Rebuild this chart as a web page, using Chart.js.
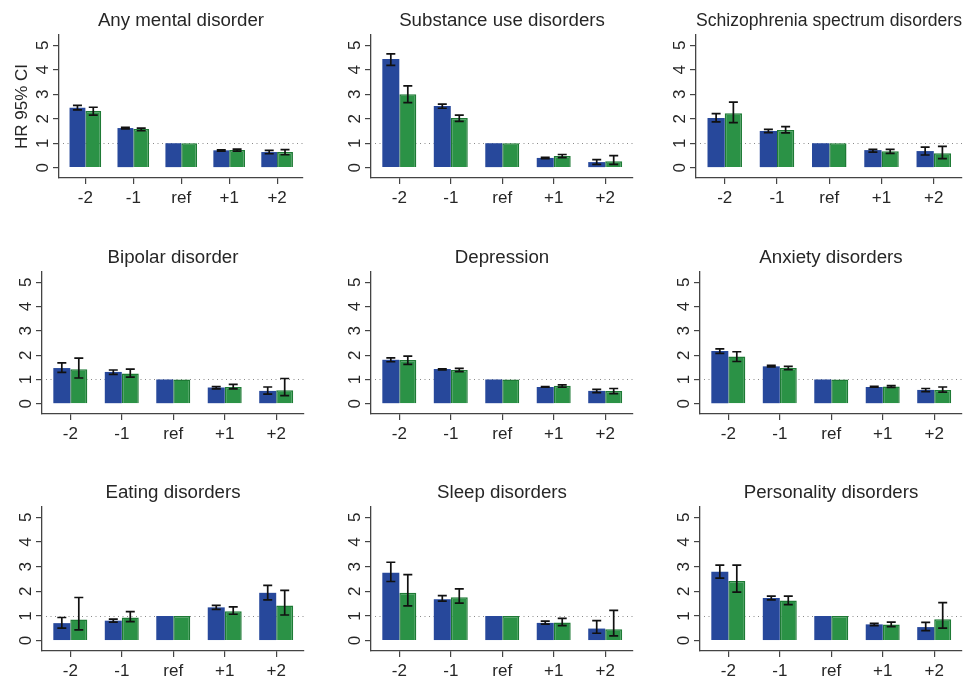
<!DOCTYPE html>
<html>
<head>
<meta charset="utf-8">
<script src="https://cdn.jsdelivr.net/npm/chart.js@4.4.0/dist/chart.umd.min.js"></script>
<style>
html, body { margin: 0; padding: 0; background: #fff; }
#wrap { position: relative; width: 973px; height: 676px; overflow: hidden; }
#wrap canvas { position: absolute; }
</style>
</head>
<body>
<div id="wrap"></div>
<script>
// categories and panels
const categories = ['-2', '-1', 'ref', '+1', '+2'];
const titles = ['Any mental disorder', 'Substance use disorders', 'Schizophrenia spectrum disorders',
                'Bipolar disorder', 'Depression', 'Anxiety disorders',
                'Eating disorders', 'Sleep disorders', 'Personality disorders'];
const yTicks = [0, 1, 2, 3, 4, 5];

// blue series: HR and 95% CI
const blueHR = [
  [2.45, 1.62, 1, 0.71, 0.64],
  [4.44, 2.52, 1, 0.40, 0.23],
  [2.03, 1.50, 1, 0.72, 0.68],
  [1.47, 1.31, 1, 0.67, 0.53],
  [1.81, 1.43, 1, 0.69, 0.53],
  [2.17, 1.54, 1, 0.69, 0.57],
  [0.71, 0.81, 1, 1.35, 1.94],
  [2.75, 1.68, 1, 0.72, 0.49],
  [2.79, 1.73, 1, 0.66, 0.55]
];
const blueLow = [
  [2.36, 1.59, null, 0.68, 0.57],
  [4.18, 2.43, null, 0.37, 0.14],
  [1.87, 1.43, null, 0.64, 0.52],
  [1.29, 1.21, null, 0.61, 0.40],
  [1.73, 1.39, null, 0.68, 0.46],
  [2.07, 1.52, null, 0.68, 0.50],
  [0.51, 0.75, null, 1.27, 1.65],
  [2.40, 1.60, null, 0.67, 0.30],
  [2.54, 1.65, null, 0.61, 0.41]
];
const blueHigh = [
  [2.55, 1.65, null, 0.73, 0.71],
  [4.65, 2.60, null, 0.42, 0.33],
  [2.21, 1.57, null, 0.75, 0.84],
  [1.68, 1.39, null, 0.71, 0.69],
  [1.89, 1.44, null, 0.71, 0.59],
  [2.26, 1.58, null, 0.72, 0.63],
  [0.94, 0.87, null, 1.43, 2.24],
  [3.18, 1.83, null, 0.79, 0.81],
  [3.06, 1.81, null, 0.70, 0.74]
];

// green series: HR and 95% CI
const greenHR = [
  [2.32, 1.58, 1, 0.72, 0.64],
  [3.00, 2.03, 1, 0.48, 0.26],
  [2.23, 1.54, 1, 0.67, 0.59],
  [1.42, 1.25, 1, 0.69, 0.56],
  [1.80, 1.39, 1, 0.74, 0.53],
  [1.95, 1.47, 1, 0.71, 0.57],
  [0.86, 0.94, 1, 1.19, 1.43],
  [1.94, 1.76, 1, 0.74, 0.46],
  [2.42, 1.63, 1, 0.66, 0.87]
];
const greenLow = [
  [2.15, 1.51, null, 0.68, 0.53],
  [2.66, 1.89, null, 0.41, 0.14],
  [1.84, 1.42, null, 0.59, 0.37],
  [1.06, 1.10, null, 0.61, 0.34],
  [1.62, 1.32, null, 0.68, 0.42],
  [1.74, 1.40, null, 0.67, 0.48],
  [0.44, 0.77, null, 1.07, 1.04],
  [1.41, 1.52, null, 0.61, 0.19],
  [1.97, 1.46, null, 0.57, 0.51]
];
const greenHigh = [
  [2.47, 1.62, null, 0.76, 0.74],
  [3.34, 2.15, null, 0.54, 0.49],
  [2.68, 1.68, null, 0.75, 0.87],
  [1.88, 1.43, null, 0.80, 1.04],
  [1.96, 1.46, null, 0.78, 0.63],
  [2.14, 1.54, null, 0.75, 0.69],
  [1.75, 1.18, null, 1.37, 2.04],
  [2.68, 2.10, null, 0.90, 1.23],
  [3.06, 1.81, null, 0.75, 1.54]
];

// layout of the plot boxes on the page
const rowTop = [35, 272, 507];
const rowBottom = [178, 414, 651];
const colLeft = [[59, 371, 696], [42, 371, 700], [42, 371, 700]];
const colRight = [[303, 633, 962], [304, 633, 962], [304, 633, 962]];

const fontFamily = '"Liberation Sans", Arial, Helvetica, sans-serif';
const textColor = '#262626';
const axisColor = '#444';
const blue = '#27489b';
const green = '#2b9246';
const greenEdge = '#1e7a35';

// dotted line at HR = 1, behind the bars
const refLine = {
  id: 'refLine',
  beforeDatasetsDraw(chart) {
    const { ctx, chartArea, scales: { y } } = chart;
    const py = Math.round(y.getPixelForValue(1)) + 0.5;
    ctx.save();
    ctx.strokeStyle = '#8a8a8a';
    ctx.lineWidth = 1;
    ctx.setLineDash([1, 3.5]);
    ctx.beginPath();
    ctx.moveTo(chartArea.left + 4, py);
    ctx.lineTo(chartArea.right, py);
    ctx.stroke();
    ctx.restore();
  }
};

// CI whiskers from dataset.lows / dataset.highs
const errorBars = {
  id: 'errorBars',
  afterDatasetsDraw(chart) {
    const { ctx, scales: { y } } = chart;
    ctx.save();
    ctx.strokeStyle = '#111';
    ctx.lineWidth = 1.7;
    chart.data.datasets.forEach((ds, d) => {
      const meta = chart.getDatasetMeta(d);
      meta.data.forEach((bar, i) => {
        const lo = ds.lows[i], hi = ds.highs[i];
        if (lo == null || hi == null) return;
        const yl = y.getPixelForValue(lo), yh = y.getPixelForValue(hi);
        const x = bar.x;
        ctx.beginPath();
        ctx.moveTo(x, yl); ctx.lineTo(x, yh);
        ctx.moveTo(x - 4.5, yl); ctx.lineTo(x + 4.5, yl);
        ctx.moveTo(x - 4.5, yh); ctx.lineTo(x + 4.5, yh);
        ctx.stroke();
      });
    });
    ctx.restore();
  }
};

const wrap = document.getElementById('wrap');

titles.forEach((title, p) => {
  const r = Math.floor(p / 3), c = p % 3;
  const left = colLeft[r][c], right = colRight[r][c];
  const top = rowTop[r], bottom = rowBottom[r];
  const padL = (c === 0) ? left : 42;
  const padT = 35, padB = 34, padR = 10;

  const canvas = document.createElement('canvas');
  canvas.width = padL + (right - left) + padR;
  canvas.height = padT + (bottom - top) + padB;
  canvas.style.left = (left - padL) + 'px';
  canvas.style.top = (top - padT) + 'px';
  wrap.appendChild(canvas);

  new Chart(canvas, {
    type: 'bar',
    data: {
      labels: categories,
      datasets: [
        {
          data: blueHR[p], lows: blueLow[p], highs: blueHigh[p],
          backgroundColor: blue, borderWidth: 0,
          categoryPercentage: 0.66, barPercentage: 1
        },
        {
          data: greenHR[p], lows: greenLow[p], highs: greenHigh[p],
          backgroundColor: green, borderColor: greenEdge, borderWidth: 1.5,
          categoryPercentage: 0.66, barPercentage: 1
        }
      ]
    },
    options: {
      responsive: false,
      animation: false,
      events: [],
      layout: { padding: { left: 0, right: padR, top: 0, bottom: 0 } },
      plugins: {
        legend: { display: false },
        tooltip: { enabled: false },
        title: {
          display: true,
          text: title,
          fullSize: false,
          color: textColor,
          font: { family: fontFamily, size: 18.7, weight: 'normal', lineHeight: 1.2 },
          padding: { top: 9.8, bottom: 2.8 }
        }
      },
      scales: {
        x: {
          offset: true,
          grid: { drawOnChartArea: false, offset: false, tickLength: 6, color: axisColor, lineWidth: 1.2 },
          border: { display: true, color: axisColor, width: 1.3 },
          ticks: { color: textColor, font: { family: fontFamily, size: 17 }, padding: 4, maxRotation: 0, autoSkip: false },
          afterBuildTicks: (s) => { s._startValue = -0.55; s._valueRange = 5.09; },
          afterFit: (s) => { s.height = padB; }
        },
        y: {
          min: -0.42,
          max: 5.42,
          afterBuildTicks: (s) => { s.ticks = yTicks.map(v => ({ value: v })); },
          grid: { drawOnChartArea: false, tickLength: 6, color: axisColor, lineWidth: 1.2 },
          border: { display: true, color: axisColor, width: 1.3 },
          ticks: {
            color: textColor, font: { family: fontFamily, size: 17 },
            minRotation: 90, maxRotation: 90, crossAlign: 'center', padding: 4.5
          },
          title: {
            display: p === 0,
            text: 'HR 95% CI',
            color: textColor,
            font: { family: fontFamily, size: 17 },
            padding: { top: 12.3, bottom: 0 }
          },
          afterFit: (s) => { s.width = padL; }
        }
      }
    },
    plugins: [refLine, errorBars]
  });
});
</script>
</body>
</html>
